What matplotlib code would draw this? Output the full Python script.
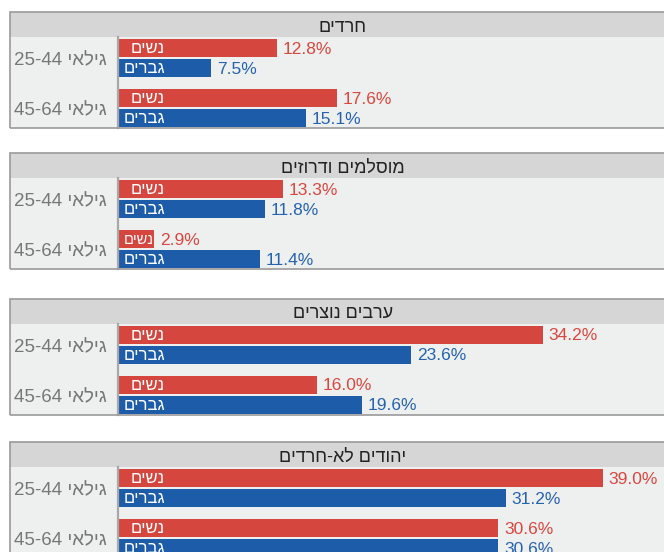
import matplotlib
matplotlib.use("Agg")
import matplotlib.pyplot as plt
from matplotlib.patches import Rectangle

plt.rcParams["font.family"] = ["Liberation Sans", "DejaVu Sans"]

# ---------------------------------------------------------------------------
# Data (logical Hebrew strings)
# ---------------------------------------------------------------------------
groups = ["חרדים", "מוסלמים ודרוזים", "ערבים נוצרים", "יהודים לא-חרדים"]
age_labels = ["גילאי 25-44", "גילאי 45-64"]
sex_labels = ["נשים", "גברים"]

women_25_44 = [12.8, 13.3, 34.2, 39.0]
men_25_44 = [7.5, 11.8, 23.6, 31.2]
women_45_64 = [17.6, 2.9, 16.0, 30.6]
men_45_64 = [15.1, 11.4, 19.6, 30.6]

# ---------------------------------------------------------------------------
# Style / layout (pixels)
# ---------------------------------------------------------------------------
W, H = 664, 552
COL_W = "#d5463f"
COL_M = "#1c5ca8"
TXT_W = "#d9473f"
TXT_M = "#2463ae"
BODY_BG = "#eeefef"
TITLE_BG = "#d6d6d6"
EDGE = "#9a9a9a"

PANEL_TOPS = [12, 153, 299, 442]
PANEL_X, PANEL_W = 10, 666
TITLE_H, BODY_H = 25, 91
LAB_W = 108
PX_PER_PCT = 12.43


def rtl(s):
    # matplotlib has no bidi support: flip word order and Hebrew glyph order
    tokens = s.split(" ")
    return " ".join(t if t[0].isdigit() else t[::-1] for t in reversed(tokens))


fig = plt.figure(figsize=(W / 100, H / 100), dpi=100)
fig.patch.set_facecolor("white")


def px_axes(x0, y0, w, h):
    return fig.add_axes([x0 / W, 1 - (y0 + h) / H, w / W, h / H])


def blank(ax, bg):
    ax.set_facecolor(bg)
    ax.set_xticks([])
    ax.set_yticks([])
    for s in ax.spines.values():
        s.set_visible(False)


for i, group in enumerate(groups):
    top = PANEL_TOPS[i]

    # title bar
    ax_t = px_axes(PANEL_X, top, PANEL_W, TITLE_H)
    blank(ax_t, TITLE_BG)
    ax_t.text(0.5, 0.4, rtl(group), ha="center", va="center", fontsize=13,
              color="#222222", transform=ax_t.transAxes)

    # left label column
    ax_l = px_axes(PANEL_X, top + TITLE_H, LAB_W, BODY_H)
    blank(ax_l, BODY_BG)
    ax_l.set_xlim(0, LAB_W)
    ax_l.set_ylim(BODY_H, 0)

    # bar area
    bar_w = PANEL_W - LAB_W
    ax_b = px_axes(PANEL_X + LAB_W, top + TITLE_H, bar_w, BODY_H)
    blank(ax_b, BODY_BG)
    ax_b.spines["left"].set_visible(True)
    ax_b.spines["left"].set_color("#a8a8a8")
    ax_b.spines["left"].set_linewidth(1.6)
    ax_b.spines["left"].set_zorder(5)
    ax_b.set_xlim(0, bar_w / PX_PER_PCT)
    ax_b.set_ylim(BODY_H, 0)

    rows = [
        (women_25_44[i], men_25_44[i]),
        (women_45_64[i], men_45_64[i]),
    ]
    for g, (vw, vm) in enumerate(rows):
        y_w = 11 + 50 * g
        y_m = 31 + 50 * g
        ax_b.barh(y_w, vw, height=17.5, color=COL_W, zorder=2)
        ax_b.barh(y_m, vm, height=17.5, color=COL_M, zorder=2)

        for val, yy, tc, sl in [(vw, y_w, TXT_W, sex_labels[0]),
                                (vm, y_m, TXT_M, sex_labels[1])]:
            ax_b.text(val + 0.45, yy + 1, f"{val:.1f}%", ha="left", va="center",
                      fontsize=12.5, color=tc, zorder=3)
            if val > 4:
                ax_b.text(3.78, yy + 0.5, rtl(sl), ha="right", va="center",
                          fontsize=12, color="white", zorder=3)
            else:
                ax_b.text(val - 0.05, yy + 0.5, rtl(sl), ha="right", va="center",
                          fontsize=10.5, color="white", zorder=3)

        ax_l.text(97, (y_w + y_m) / 2 + 3, rtl(age_labels[g]), ha="right",
                  va="center", fontsize=13.5, color="#777777")

    # outer frame
    fig.add_artist(Rectangle((PANEL_X / W, 1 - (top + TITLE_H + BODY_H) / H),
                             PANEL_W / W, (TITLE_H + BODY_H) / H,
                             transform=fig.transFigure, fill=False,
                             edgecolor=EDGE, linewidth=1.2, zorder=10))

fig.savefig("out.png", dpi=100)
